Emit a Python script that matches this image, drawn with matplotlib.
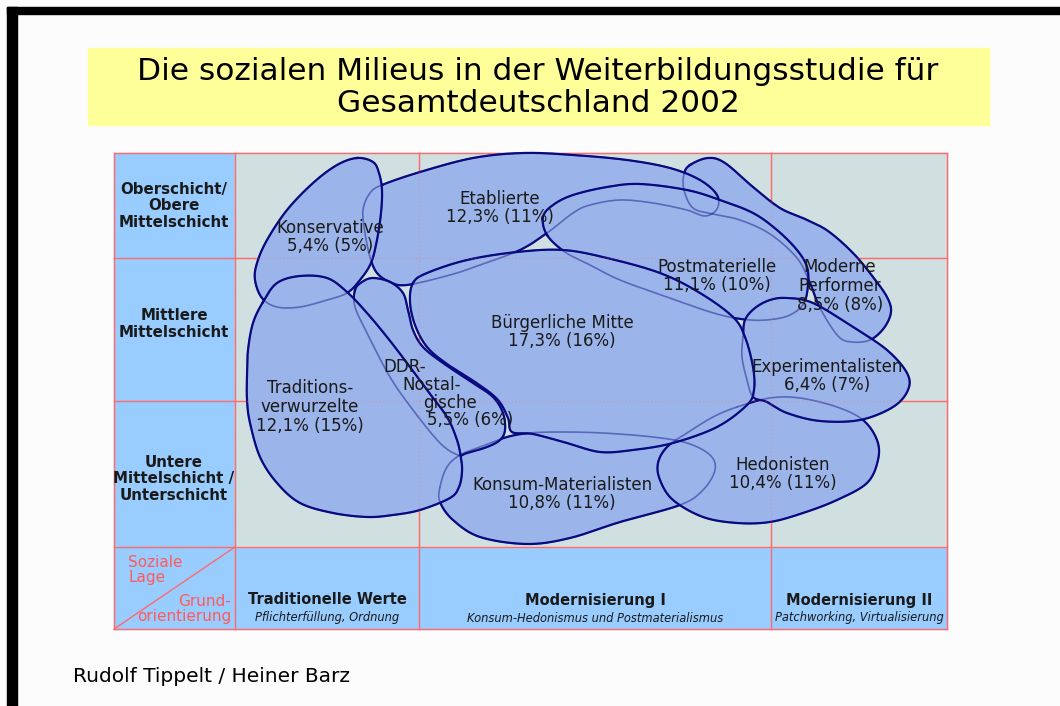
import numpy as np
import matplotlib
matplotlib.use("Agg")
import matplotlib.pyplot as plt
from matplotlib.patches import Rectangle

# grid of the milieu map (image pixel coords)
col_edges = [114, 235, 419, 771, 947]
row_edges = [153, 258, 401, 547, 629]

row_labels = ["Oberschicht/\nObere\nMittelschicht", "Mittlere\nMittelschicht",
              "Untere\nMittelschicht /\nUnterschicht"]
col_titles = ["Traditionelle Werte", "Modernisierung I", "Modernisierung II"]
col_subtitles = ["Pflichterfüllung, Ordnung",
                 "Konsum-Hedonismus und Postmaterialismus",
                 "Patchworking, Virtualisierung"]

# milieu outlines, drawn bottom to top
konsum = [(440, 487), (447, 467), (460, 455), (480, 447), (507, 437), (530, 433), (560, 432),
          (603, 433), (653, 437), (687, 443), (710, 455), (715, 470), (703, 490), (680, 505),
          (620, 522), (570, 538), (527, 544), (480, 537), (453, 520), (440, 502)]
performer = [(690, 165), (708, 158), (725, 163), (753, 187), (780, 208), (805, 219), (828, 231),
             (853, 253), (873, 277), (887, 297), (891, 312), (884, 328), (870, 340), (852, 342),
             (838, 336), (820, 308), (810, 283), (797, 258), (770, 234), (740, 220), (713, 214),
             (693, 208), (684, 190), (684, 174)]
hedonisten = [(737, 407), (770, 398), (800, 398), (837, 407), (863, 420), (877, 440), (878, 460),
              (867, 483), (837, 500), (803, 513), (770, 522), (737, 523), (703, 517), (673, 500),
              (660, 480), (658, 463), (667, 447), (687, 433), (713, 417)]
etablierte = [(382, 185), (420, 172), (473, 158), (523, 153), (573, 155), (627, 160), (670, 168),
              (700, 180), (717, 195), (717, 209), (705, 216), (687, 210), (653, 203), (620, 200),
              (590, 205), (573, 213), (547, 233), (520, 250), (480, 265), (450, 275), (407, 285),
              (390, 282), (377, 273), (370, 257), (365, 233), (363, 210), (370, 193)]
konservative = [(357, 158), (373, 162), (379, 173), (382, 190), (381, 213), (377, 240), (371, 263),
                (360, 280), (347, 293), (327, 300), (300, 307), (277, 307), (262, 298), (255, 280),
                (257, 263), (267, 240), (287, 210), (313, 183), (337, 165)]
ddr = [(355, 290), (362, 282), (373, 278), (390, 282), (403, 293), (408, 310), (413, 330),
       (423, 347), (443, 363), (473, 383), (493, 397), (503, 413), (505, 430), (500, 440),
       (487, 447), (467, 453), (458, 455), (440, 443), (413, 410), (390, 377), (367, 333),
       (355, 307)]
traditionell = [(263, 302), (277, 283), (300, 276), (327, 278), (347, 292), (367, 313), (387, 337),
                (407, 363), (427, 390), (447, 417), (457, 440), (461, 458), (462, 472), (459, 487),
                (450, 498), (420, 510), (393, 515), (367, 517), (333, 513), (300, 503), (277, 483),
                (260, 457), (250, 423), (247, 400), (247, 375), (248, 350), (253, 323)]
postmat = [(547, 235), (543, 217), (553, 205), (573, 195), (607, 187), (640, 184), (687, 190),
           (720, 200), (753, 213), (777, 230), (797, 250), (807, 267), (808, 285), (804, 303),
           (792, 314), (775, 319), (750, 320), (717, 314), (667, 297), (620, 280), (590, 265),
           (565, 252)]
experimental = [(743, 337), (745, 320), (755, 308), (770, 300), (787, 298), (813, 303), (853, 327),
                (887, 350), (907, 373), (908, 390), (893, 407), (860, 420), (820, 421), (787, 413),
                (767, 402), (753, 397), (747, 380), (742, 357)]
buergerlich = [(413, 283), (427, 273), (467, 260), (517, 252), (563, 250), (607, 258), (660, 273),
               (700, 293), (733, 317), (745, 337), (753, 367), (754, 390), (747, 405), (717, 427),
               (673, 443), (633, 450), (600, 452), (567, 443), (533, 434), (512, 432), (508, 418),
               (498, 400), (478, 384), (447, 364), (427, 347), (415, 325), (410, 302)]

blobs = [konsum, performer, hedonisten, etablierte, konservative, ddr, traditionell,
         postmat, experimental, buergerlich]

milieu_labels = ["Konservative\n5,4% (5%)", "Etablierte\n12,3% (11%)",
                 "Postmaterielle\n11,1% (10%)", "Moderne\nPerformer\n8,5% (8%)",
                 "Bürgerliche Mitte\n17,3% (16%)", "Experimentalisten\n6,4% (7%)",
                 "Traditions-\nverwurzelte\n12,1% (15%)", "Konsum-Materialisten\n10,8% (11%)",
                 "Hedonisten\n10,4% (11%)"]
label_xy = [(330, 237), (500, 208), (717, 276), (840, 286), (562, 332), (827, 376),
            (310, 407), (562, 494), (783, 474)]


def smooth_closed(pts, n=24):
    P = np.array(pts, float)
    N = len(P)
    t = np.linspace(0, 1, n, endpoint=False)[:, None]
    segs = []
    for i in range(N):
        p0, p1, p2, p3 = P[i - 1], P[i], P[(i + 1) % N], P[(i + 2) % N]
        seg = 0.5 * (2 * p1 + (-p0 + p2) * t + (2 * p0 - 5 * p1 + 4 * p2 - p3) * t ** 2
                     + (-p0 + 3 * p1 - 3 * p2 + p3) * t ** 3)
        segs.append(seg)
    out = np.vstack(segs)
    return np.vstack([out, out[:1]])


fig = plt.figure(figsize=(10.6, 7.06), dpi=100)
fig.patch.set_facecolor("#fcfcfc")
ax = fig.add_axes([0, 0, 1, 1])
ax.set_xlim(0, 1060)
ax.set_ylim(706, 0)
ax.axis("off")

# black frame top / left
ax.add_patch(Rectangle((7, 7), 1060, 7, color="black", zorder=1))
ax.add_patch(Rectangle((7, 7), 10, 706, color="black", zorder=1))

# title
ax.add_patch(Rectangle((88, 48), 901, 77, color="#ffff99", zorder=1))
ax.text(538, 72, "Die sozialen Milieus in der Weiterbildungsstudie für", fontsize=22.5,
        ha="center", va="center", zorder=2)
ax.text(538, 104, "Gesamtdeutschland 2002", fontsize=22.5, ha="center", va="center", zorder=2)

x0, x1 = col_edges[0], col_edges[-1]
y0, y1 = row_edges[0], row_edges[-1]
lightblue = "#99ccff"
ax.add_patch(Rectangle((x0, y0), x1 - x0, y1 - y0, color=lightblue, zorder=1))
ax.add_patch(Rectangle((col_edges[1], y0), x1 - col_edges[1], row_edges[3] - y0,
                       color="#d0dfe0", zorder=1))

red = "#ff6a6a"
for x in col_edges:
    ax.plot([x, x], [y0, y1], color=red, lw=1, zorder=2)
for y in row_edges:
    ax.plot([x0, x1], [y, y], color=red, lw=1, zorder=2)
ax.plot([x0, col_edges[1]], [y1, row_edges[3]], color=red, lw=1, zorder=2)

# milieus
navy = "#0a0a80"
fill = "#9bb5eb"
curves = [smooth_closed(b) for b in blobs]
for i, c in enumerate(curves):
    z = 3 + i * 0.1
    ax.fill(c[:, 0], c[:, 1], color=fill, zorder=z, lw=0)
    ax.plot(c[:, 0], c[:, 1], color=navy, lw=1.6, zorder=z + 0.01)
# hidden outlines shine through
for c in curves:
    ax.plot(c[:, 0], c[:, 1], color=navy, lw=1.2, alpha=0.45, zorder=5)
# grid shows faintly through the fills
for x in col_edges[1:-1]:
    ax.plot([x, x], [y0, row_edges[3]], color=red, lw=1, alpha=0.3, ls=":", zorder=5)
for y in row_edges[1:3]:
    ax.plot([col_edges[1], x1], [y, y], color=red, lw=1, alpha=0.3, ls=":", zorder=5)

txt = "#1a1a1a"
for lab, (x, y) in zip(milieu_labels, label_xy):
    ax.text(x, y, lab, fontsize=12, ha="center", va="center", color=txt,
            linespacing=1.05, zorder=6)
# DDR label is staggered
ddr_lines = ["DDR-", "Nostal-", "gische", "5,5% (6%)"]
ddr_xy = [(405, 367), (432, 385), (450, 403), (470, 420)]
for lab, (x, y) in zip(ddr_lines, ddr_xy):
    ax.text(x, y, lab, fontsize=12, ha="center", va="center", color=txt, zorder=6)

# row labels
for lab, yc in zip(row_labels, [206, 324, 479]):
    ax.text(174, yc, lab, fontsize=10.8, ha="center", va="center", color=txt,
            linespacing=1.15, fontweight="bold", zorder=6)

# column headings
for i, (t, s) in enumerate(zip(col_titles, col_subtitles)):
    xc = (col_edges[i + 1] + col_edges[i + 2]) / 2
    ax.text(xc, 600, t, fontsize=10.5, ha="center", va="center", fontweight="bold",
            color=txt, zorder=6)
    ax.text(xc, 618, s, fontsize=8.3, ha="center", va="center", style="italic",
            color=txt, zorder=6)

ax.text(128, 570, "Soziale\nLage", fontsize=11, ha="left", va="center", color="#ff5a5a",
        linespacing=1.05, zorder=6)
ax.text(231, 609, "Grund-\norientierung", fontsize=11, ha="right", va="center",
        color="#ff5a5a", linespacing=1.05, zorder=6)

ax.text(73, 677, "Rudolf Tippelt / Heiner Barz", fontsize=14.5, ha="left", va="center",
        color="black", zorder=6)

fig.savefig("out.png", dpi=100, facecolor=fig.get_facecolor())
